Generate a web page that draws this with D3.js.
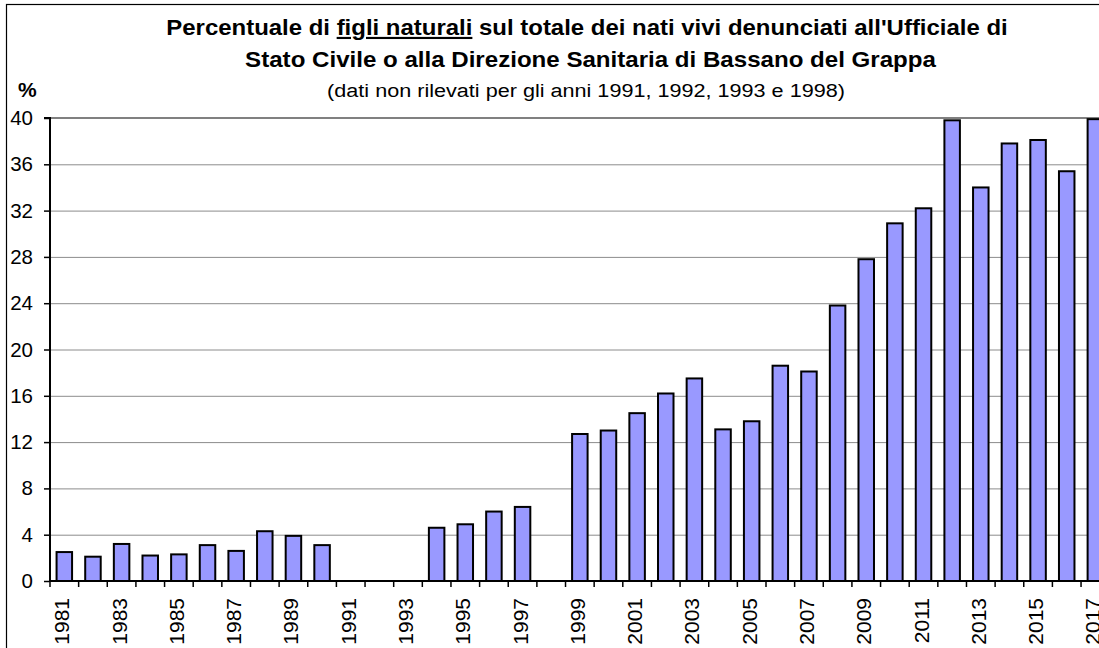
<!DOCTYPE html>
<html>
<head>
<meta charset="utf-8">
<script src="https://cdn.jsdelivr.net/npm/d3@7"></script>
<style>
  html, body { margin: 0; padding: 0; background: #fff; }
  svg { display: block; font-family: "Liberation Sans", Arial, sans-serif; }
</style>
</head>
<body>
<svg id="chart" width="1099" height="648"></svg>
<script>
const years = ["1981","1982","1983","1984","1985","1986","1987","1988","1989","1990",
  "1991","1992","1993","1994","1995","1996","1997","1998","1999","2000",
  "2001","2002","2003","2004","2005","2006","2007","2008","2009","2010",
  "2011","2012","2013","2014","2015","2016","2017"];
const values = [2.5, 2.1, 3.2, 2.2, 2.3, 3.1, 2.6, 4.3, 3.9, 3.1,
  null, null, null, 4.6, 4.9, 6.0, 6.4, null, 12.7, 13.0,
  14.5, 16.2, 17.5, 13.1, 13.8, 18.6, 18.1, 23.8, 27.8, 30.9,
  32.2, 39.8, 34.0, 37.8, 38.1, 35.4, 39.9];
const yTicks = [0, 4, 8, 12, 16, 20, 24, 28, 32, 36, 40];
const labelYears = years.filter((d, i) => i % 2 === 0);

(function () {
const svg = d3.select("#chart");
svg.append("rect").attr("width", 1099).attr("height", 648).attr("fill", "#fff");
// outer frame
svg.append("rect").attr("x", 6.5).attr("y", 4.5).attr("width", 1200).attr("height", 700)
  .attr("fill", "none").attr("stroke", "#000").attr("stroke-width", 1.2);

const pLeft = 50, pTop = 118, pBottom = 581, step = 28.64;
const x = d3.scaleBand().domain(years).range([pLeft, pLeft + years.length * step]).padding(0);
const y = d3.scaleLinear().domain([0, 40]).range([pBottom, pTop]);

// gridlines
svg.append("g").selectAll("line").data(yTicks.filter(d => d > 0 && d < 40)).join("line")
  .attr("x1", pLeft).attr("x2", 1099)
  .attr("y1", d => y(d) + 0.5).attr("y2", d => y(d) + 0.5)
  .attr("stroke", "#8c8c8c").attr("stroke-width", 1);
// top border of plot
svg.append("line").attr("x1", pLeft).attr("x2", 1099).attr("y1", y(40)).attr("y2", y(40))
  .attr("stroke", "#808080").attr("stroke-width", 2);

// bars
const barW = 15.5;
svg.append("g").selectAll("rect").data(years.map((d, i) => ({year: d, v: values[i]})).filter(d => d.v !== null))
  .join("rect")
  .attr("x", d => x(d.year) + x.bandwidth() / 2 - barW / 2)
  .attr("y", d => y(d.v))
  .attr("width", barW)
  .attr("height", d => y(0) - y(d.v))
  .attr("fill", "#9999ff").attr("stroke", "#000").attr("stroke-width", 2);

// y axis
const yAxis = svg.append("g").attr("transform", `translate(${pLeft},0)`)
  .call(d3.axisLeft(y).tickValues(yTicks).tickSize(6).tickPadding(11).tickFormat(d3.format("d")));
yAxis.select(".domain").attr("stroke", "#000").attr("stroke-width", 2).attr("d", `M-6,${pTop}H0V${pBottom}`);
yAxis.selectAll(".tick line").attr("stroke", "#000").attr("stroke-width", 1.5);
yAxis.selectAll(".tick text").attr("font-size", 20.5).attr("fill", "#000")
  .attr("font-family", "'Liberation Sans', Arial, sans-serif");

// x axis line
svg.append("line").attr("x1", pLeft).attr("x2", 1099).attr("y1", pBottom).attr("y2", pBottom)
  .attr("stroke", "#000").attr("stroke-width", 2);
// x ticks at band boundaries
svg.append("g").selectAll("line").data(years).join("line")
  .attr("x1", d => x(d)).attr("x2", d => x(d))
  .attr("y1", pBottom).attr("y2", pBottom + 6)
  .attr("stroke", "#000").attr("stroke-width", 1.5);
// x labels
svg.append("g").selectAll("text").data(labelYears).join("text")
  .attr("transform", d => `translate(${x(d) + x.bandwidth() / 2 + 5},598) rotate(-90)`)
  .attr("text-anchor", "end")
  .attr("font-size", 21).attr("fill", "#000")
  .text(d => d);

// titles, stretched horizontally to match the reference width
function fitText(sel, cx, cy, targetW) {
  const w = sel.node().getComputedTextLength();
  sel.attr("x", 0).attr("y", 0).attr("text-anchor", "middle")
    .attr("transform", `translate(${cx},${cy}) scale(${targetW / w},1)`);
}
const t1 = svg.append("text").attr("font-size", 21.5).attr("font-weight", "bold");
t1.append("tspan").text("Percentuale di ");
t1.append("tspan").attr("text-decoration", "underline").text("figli naturali");
t1.append("tspan").text(" sul totale dei nati vivi denunciati all'Ufficiale di");
fitText(t1, 587, 35, 842);
const t2 = svg.append("text").attr("font-size", 21.5).attr("font-weight", "bold")
  .text("Stato Civile o alla Direzione Sanitaria di Bassano del Grappa");
fitText(t2, 590.5, 67, 691);
const t3 = svg.append("text").attr("font-size", 19)
  .text("(dati non rilevati per gli anni 1991, 1992, 1993 e 1998)");
fitText(t3, 586, 97, 518);
svg.append("text").attr("x", 18).attr("y", 97)
  .attr("font-size", 21).attr("font-weight", "bold").text("%");
})();
</script>
</body>
</html>
